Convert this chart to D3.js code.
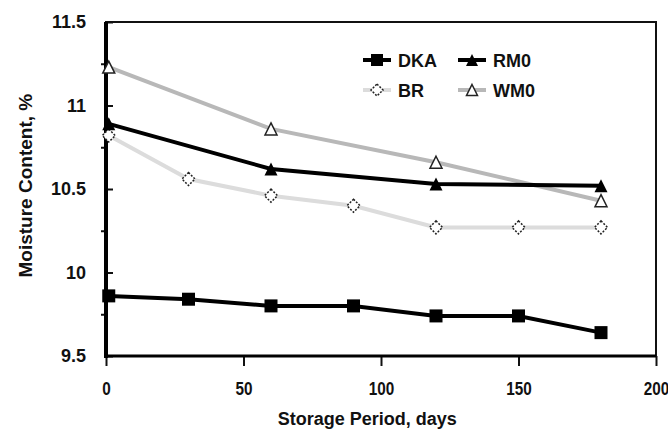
<!DOCTYPE html>
<html>
<head>
<meta charset="utf-8">
<script src="https://cdn.jsdelivr.net/npm/d3@7"></script>
<style>
 body { margin: 0; background: #fff; }
 text { font-family: "Liberation Sans", Arial, sans-serif; fill: #111; }
</style>
</head>
<body>
<div id="chart"></div>
<script>
// data
const dkaDays = [1, 30, 60, 90, 120, 150, 180];
const dkaValues = [9.86, 9.84, 9.80, 9.80, 9.74, 9.74, 9.64];
const brDays = [1, 30, 60, 90, 120, 150, 180];
const brValues = [10.82, 10.56, 10.46, 10.40, 10.27, 10.27, 10.27];
const rmDays = [1, 60, 120, 180];
const rmValues = [10.89, 10.62, 10.53, 10.52];
const wmDays = [1, 60, 120, 180];
const wmValues = [11.23, 10.86, 10.66, 10.43];

const xTicks = [0, 50, 100, 150, 200];
const yTicks = [9.5, 10, 10.5, 11, 11.5];
const yMinor = [9.75, 10.25, 10.75, 11.25];

const W = 668, H = 435;
const margin = {top: 22, right: 12, bottom: 79, left: 106},
 width = W - margin.left - margin.right,
 height = H - margin.top - margin.bottom;

const svg = d3.select("#chart")
.append("svg")
 .attr("width", W)
 .attr("height", H)
.append("g")
 .attr("transform", "translate(" + margin.left + "," + margin.top + ")");

const x = d3.scaleLinear().domain([0, 200]).range([0, width]);
const y = d3.scaleLinear().domain([9.5, 11.5]).range([height, 0]);

// frame (top + right thin)
svg.append("rect")
 .attr("x", 0).attr("y", 0)
 .attr("width", width).attr("height", height)
 .style("fill", "none")
 .style("stroke", "#111")
 .style("stroke-width", 2);

// y axis: major ticks inside, minor outside
svg.append("g")
 .call(d3.axisLeft(y).tickValues(yTicks).tickSize(-7).tickPadding(20).tickFormat(d3.format("")))
 .call(g => g.select(".domain").remove())
 .call(g => g.selectAll("line").style("stroke", "#111").style("stroke-width", 2))
 .call(g => g.selectAll("text").style("font-size", "18px").style("font-weight", "bold").attr("fill", "#111"));
svg.append("g")
 .call(d3.axisLeft(y).tickValues(yMinor).tickSize(5).tickFormat(""))
 .call(g => g.select(".domain").remove())
 .call(g => g.selectAll("line").style("stroke", "#111").style("stroke-width", 2));

// x axis (labels a bit narrow, like the original)
svg.append("g")
 .attr("transform", "translate(0," + height + ")")
 .call(d3.axisBottom(x).tickValues(xTicks).tickSize(10).tickPadding(16))
 .call(g => g.select(".domain").remove())
 .call(g => g.selectAll("line").style("stroke", "#111").style("stroke-width", 2))
 .call(g => g.selectAll("text").style("font-size", "18px").style("font-weight", "bold")
   .attr("fill", "#111").attr("transform", "scale(0.85,1)"));

// thick left and bottom axis lines
svg.append("line").attr("x1", 0).attr("x2", 0).attr("y1", 0).attr("y2", height + 2)
 .style("stroke", "#000").style("stroke-width", 4);
svg.append("line").attr("x1", -2).attr("x2", width).attr("y1", height).attr("y2", height)
 .style("stroke", "#000").style("stroke-width", 3);

// axis titles
svg.append("text")
 .attr("x", x(95))
 .attr("y", height + 69)
 .attr("text-anchor", "middle")
 .style("font-size", "18px")
 .style("font-weight", "bold")
 .text("Storage Period, days");
svg.append("text")
 .attr("transform", "translate(" + (-74) + "," + y(10.52) + ") rotate(-90)")
 .attr("text-anchor", "middle")
 .style("font-size", "19px")
 .style("font-weight", "bold")
 .text("Moisture Content, %");

const line = d3.line().x(d => x(d[0])).y(d => y(d[1]));

function marker(sel, type, size) {
 const s = size / 2;
 if (type === "square") {
   sel.append("rect").attr("x", -s).attr("y", -s).attr("width", size).attr("height", size)
     .style("fill", "#000");
 } else if (type === "diamond") {
   sel.append("path").attr("d", "M0," + (-s) + "L" + s + ",0L0," + s + "L" + (-s) + ",0Z")
     .style("fill", "#fff").style("stroke", "#222").style("stroke-width", 1.5)
     .style("stroke-dasharray", "2,1.5");
 } else if (type === "triangle") {
   sel.append("path").attr("d", "M0," + (-s) + "L" + s + "," + s + "L" + (-s) + "," + s + "Z")
     .style("fill", "#000");
 } else if (type === "otriangle") {
   sel.append("path").attr("d", "M0," + (-s) + "L" + s + "," + s + "L" + (-s) + "," + s + "Z")
     .style("fill", "#fff").style("stroke", "#222").style("stroke-width", 1.5);
 }
}

const series = [
 {name: "BR", days: brDays, vals: brValues, color: "#dcdcdc", mark: "diamond", size: 13},
 {name: "WM0", days: wmDays, vals: wmValues, color: "#b8b8b8", mark: "otriangle", size: 12},
 {name: "RM0", days: rmDays, vals: rmValues, color: "#000", mark: "triangle", size: 13},
 {name: "DKA", days: dkaDays, vals: dkaValues, color: "#000", mark: "square", size: 13}
];

series.forEach(s => {
 const pts = s.days.map((d, i) => [d, s.vals[i]]);
 svg.append("path")
   .datum(pts)
   .attr("d", line)
   .style("fill", "none")
   .style("stroke", s.color)
   .style("stroke-width", 4);
 svg.selectAll(null)
   .data(pts)
   .enter()
   .append("g")
   .attr("transform", d => "translate(" + x(d[0]) + "," + y(d[1]) + ")")
   .each(function() { marker(d3.select(this), s.mark, s.size); });
});

// legend
const legendItems = [
 {name: "DKA", color: "#000", mark: "square", size: 12, lx: 257, ly: 38},
 {name: "RM0", color: "#000", mark: "triangle", size: 12, lx: 352, ly: 38},
 {name: "BR", color: "#dcdcdc", mark: "diamond", size: 12, lx: 257, ly: 68},
 {name: "WM0", color: "#b8b8b8", mark: "otriangle", size: 11, lx: 352, ly: 68}
];
legendItems.forEach(l => {
 const g = svg.append("g").attr("transform", "translate(" + l.lx + "," + l.ly + ")");
 g.append("line").attr("x1", 0).attr("x2", 28).attr("y1", 0).attr("y2", 0)
   .style("stroke", l.color).style("stroke-width", 4);
 const m = g.append("g").attr("transform", "translate(14,0)");
 marker(m, l.mark, l.size);
 g.append("text").attr("x", 35).attr("y", 7)
   .style("font-size", "18px")
   .style("font-weight", "bold")
   .text(l.name);
});
</script>
</body>
</html>
